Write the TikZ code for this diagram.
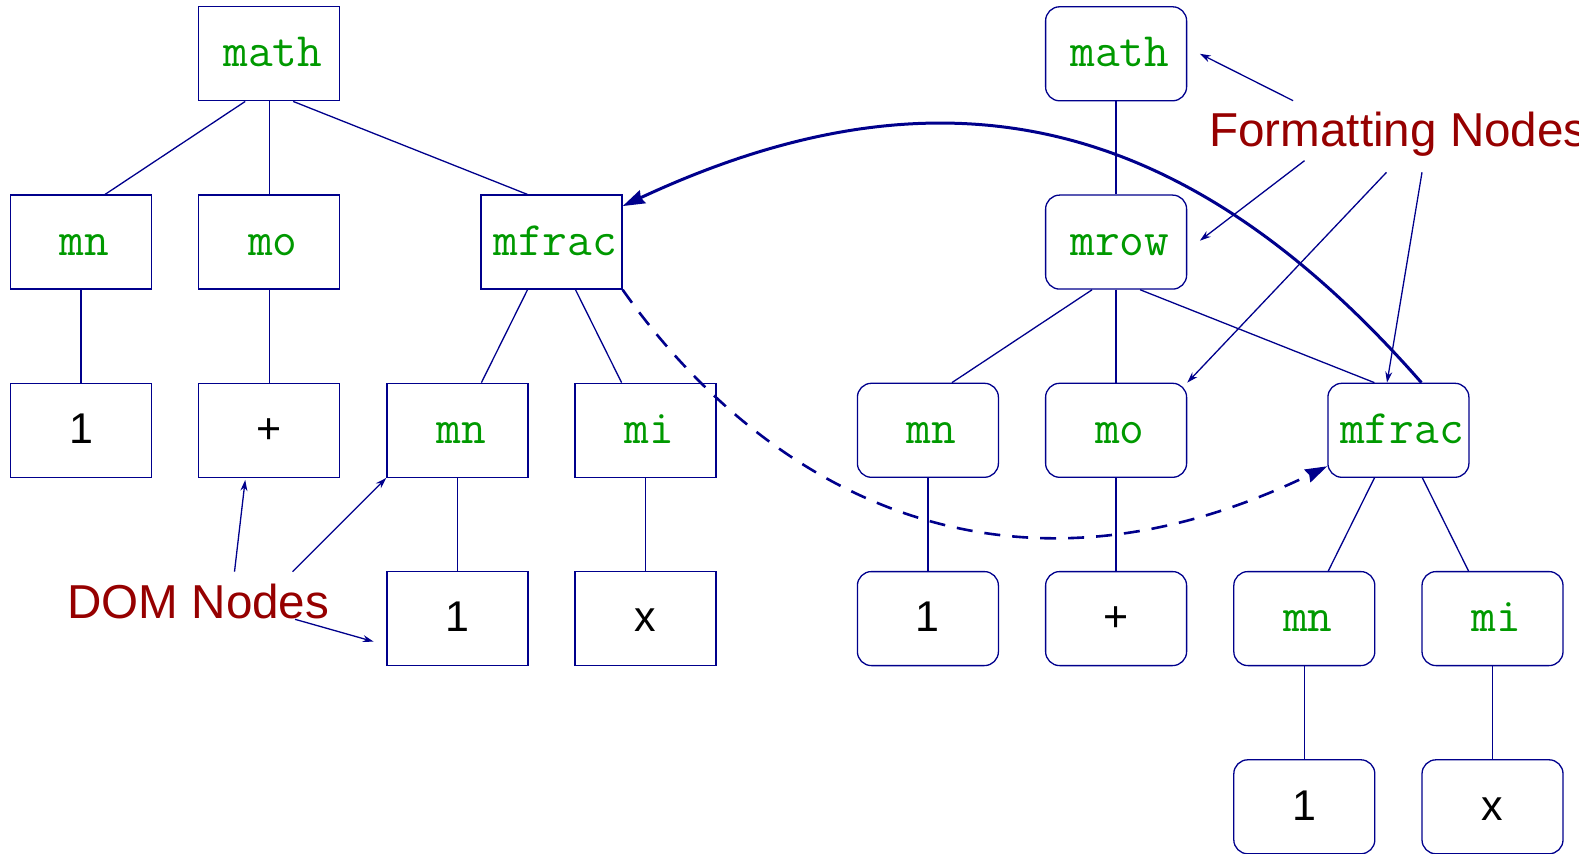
\documentclass[tikz,border=0pt]{standalone}
\usepackage{fontspec}
\setmainfont{Liberation Sans}
\usetikzlibrary{arrows.meta}
\definecolor{navyline}{RGB}{0,0,140}
\definecolor{taggreen}{RGB}{0,153,0}
\definecolor{labelred}{RGB}{150,0,0}
\tikzset{
  dombox/.style={draw=navyline, line width=0.65pt, minimum width=70.5pt, minimum height=47pt, inner sep=0pt, text height=16pt, text depth=2.8pt},
  fmtbox/.style={dombox, rounded corners=7pt},
  tag/.style={text=taggreen, font=\ttfamily\fontsize{24}{28}\selectfont, execute at begin node={\hspace*{3.6pt}}},
  val/.style={text=black, font=\fontsize{21.5}{25}\selectfont},
  treeedge/.style={draw=navyline, line width=0.65pt},
  callout/.style={draw=navyline, line width=0.65pt, -{Stealth[length=5.5pt,width=3.5pt]}},
  biglabel/.style={text=labelred, font=\fontsize{23.8}{28}\selectfont, inner sep=0pt, anchor=base west},
  bigcurve/.style={draw=navyline, line width=1.5pt, -{Stealth[length=11pt,width=7pt,inset=1pt]}},
  dashcurve/.style={draw=navyline, line width=1.3pt, dash pattern=on 8pt off 6pt, -{Stealth[length=11pt,width=7pt,inset=1pt]}},
}
\begin{document}
\begin{tikzpicture}[x=0.5pt,y=-0.5pt]
\useasboundingbox (0,0) rectangle (1593,854);
% ---- left tree (DOM nodes)
\node[dombox,tag] (mathL)  at (269.2,53.8)  {math};
\node[dombox,tag] (mnL)    at (81,242.1)    {mn};
\node[dombox,tag] (moL)    at (269.2,242.1) {mo};
\node[dombox,tag] (mfracL) at (551.5,242.1) {mfrac};
\node[dombox,val] (oneLa)  at (81,430.3)    {1};
\node[dombox,val] (plusL)  at (269.2,430.3) {+};
\node[dombox,tag] (mnLb)   at (457.4,430.3) {mn};
\node[dombox,tag] (miL)    at (645.6,430.3) {mi};
\node[dombox,val] (oneLb)  at (457.4,618.6) {1};
\node[dombox,val] (xL)     at (645.6,618.6) {x};
% ---- right tree (formatting nodes)
\node[fmtbox,tag] (mathR)  at (1116.1,53.8)  {math};
\node[fmtbox,tag] (mrowR)  at (1116.1,242.1) {mrow};
\node[fmtbox,tag] (mnR)    at (927.9,430.3)  {mn};
\node[fmtbox,tag] (moR)    at (1116.1,430.3) {mo};
\node[fmtbox,tag] (mfracR) at (1398.4,430.3) {mfrac};
\node[fmtbox,val] (oneRa)  at (927.9,618.6)  {1};
\node[fmtbox,val] (plusR)  at (1116.1,618.6) {+};
\node[fmtbox,tag] (mnRb)   at (1304.3,618.6) {mn};
\node[fmtbox,tag] (miR)    at (1492.5,618.6) {mi};
\node[fmtbox,val] (oneRb)  at (1304.3,806.8) {1};
\node[fmtbox,val] (xR)     at (1492.5,806.8) {x};
% ---- left tree edges
\draw[treeedge] ([xshift=-12pt]mathL.south) -- ([xshift=12pt]mnL.north);
\draw[treeedge] (mathL.south) -- (moL.north);
\draw[treeedge] ([xshift=12pt]mathL.south) -- ([xshift=-12pt]mfracL.north);
\draw[treeedge] (mnL.south) -- (oneLa.north);
\draw[treeedge] (moL.south) -- (plusL.north);
\draw[treeedge] ([xshift=-12pt]mfracL.south) -- ([xshift=12pt]mnLb.north);
\draw[treeedge] ([xshift=12pt]mfracL.south) -- ([xshift=-12pt]miL.north);
\draw[treeedge] (mnLb.south) -- (oneLb.north);
\draw[treeedge] (miL.south) -- (xL.north);
% ---- right tree edges
\draw[treeedge] (mathR.south) -- (mrowR.north);
\draw[treeedge] ([xshift=-12pt]mrowR.south) -- ([xshift=12pt]mnR.north);
\draw[treeedge] (mrowR.south) -- (moR.north);
\draw[treeedge] ([xshift=12pt]mrowR.south) -- ([xshift=-12pt]mfracR.north);
\draw[treeedge] (mnR.south) -- (oneRa.north);
\draw[treeedge] (moR.south) -- (plusR.north);
\draw[treeedge] ([xshift=-12pt]mfracR.south) -- ([xshift=12pt]mnRb.north);
\draw[treeedge] ([xshift=12pt]mfracR.south) -- ([xshift=-12pt]miR.north);
\draw[treeedge] (mnRb.south) -- (oneRb.north);
\draw[treeedge] (miR.south) -- (xR.north);
% ---- labels
\node[biglabel] (domlbl) at (67,618.3) {DOM Nodes};
\begin{scope}
  \clip (0,0) rectangle (1578,854);
  \node[biglabel] (fmtlbl) at (1209,146.7) {Formatting Nodes};
\end{scope}
\coordinate (d1) at (234.5,571.7);
\coordinate (d2) at (292.6,571.7);
\coordinate (d3) at (295,619.3);
\coordinate (f1) at (1293.1,100.7);
\coordinate (f2) at (1304.5,160.7);
\coordinate (f3) at (1386.5,172.3);
\coordinate (f4) at (1422,172.3);
\draw[callout] (d1) -- ([xshift=-12pt,yshift=-1pt]plusL.south);
\draw[callout] (d2) -- (mnLb.south west);
\draw[callout] (d3) -- ([xshift=-6.3pt,yshift=-11.5pt]oneLb.west);
\draw[callout] (f1) -- ([xshift=6.3pt]mathR.east);
\draw[callout] (f2) -- ([xshift=6.3pt,yshift=0.7pt]mrowR.east);
\draw[callout] (f3) -- (moR.north east);
\draw[callout] (f4) -- ([xshift=-5.7pt]mfracR.north);
% ---- curves
\draw[bigcurve] ([xshift=11.5pt]mfracR.north) .. controls +(-235,-268) and +(322,-150) .. ([yshift=18pt]mfracL.east);
\draw[dashcurve] (mfracL.south east) .. controls +(126.5,180) and +(-342,165.7) .. ([yshift=-18pt]mfracR.west);
\end{tikzpicture}
\end{document}
